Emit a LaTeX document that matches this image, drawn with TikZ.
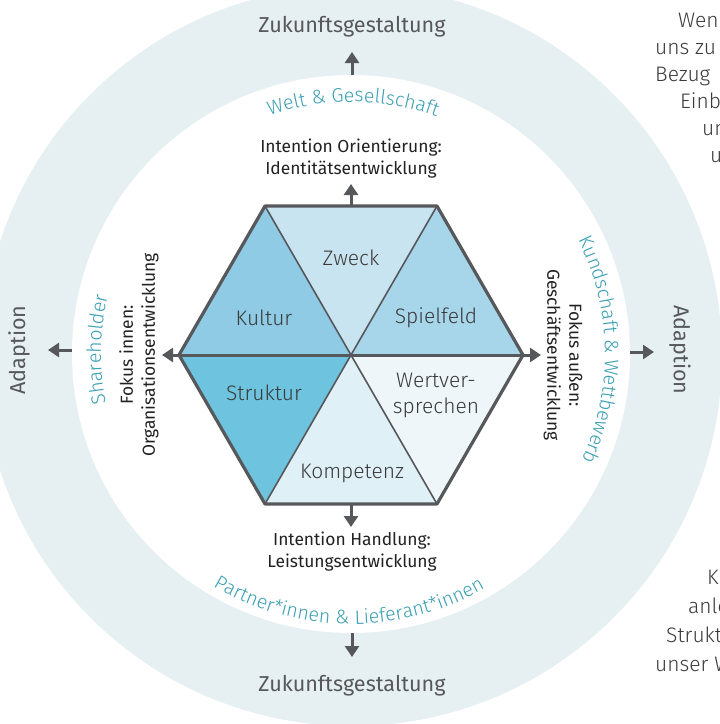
\documentclass[tikz,border=0pt]{standalone}
\usepackage{fontspec}
\setmainfont{Fira Sans}
\IfFontExistsTF{Fira Sans Light}{\newfontfamily\lightf{Fira Sans Light}}{%
  \IfFontExistsTF{Lato Light}{\newfontfamily\lightf{Lato Light}}{\newfontfamily\lightf{Fira Sans}}}
\usetikzlibrary{arrows.meta,decorations.text}
\definecolor{ring}{HTML}{E6F0F3}
\definecolor{dark}{HTML}{56585B}
\definecolor{tealt}{HTML}{3A9FB3}
\definecolor{txtdark}{HTML}{222222}
\definecolor{txtseg}{HTML}{3A3A3A}
\definecolor{cZweck}{HTML}{C8E4F0}
\definecolor{cKultur}{HTML}{8FCBE4}
\definecolor{cSpiel}{HTML}{A7D6EA}
\definecolor{cStruk}{HTML}{6EC3DF}
\definecolor{cKomp}{HTML}{DFF0F7}
\definecolor{cWert}{HTML}{EEF6FA}
\tikzset{
  bigl/.style={font=\fontsize{21.6}{24}\selectfont, text=dark, inner sep=0pt},
  midl/.style={font=\fontsize{17.4}{22}\selectfont, text=txtdark, inner sep=0pt, align=center},
  segl/.style={font=\lightf\fontsize{21}{26}\selectfont, text=txtseg, inner sep=0pt, align=center},
  sidetxt/.style={font=\lightf\fontsize{21}{24}\selectfont, text=txtseg, inner sep=0pt, anchor=base west},
  arr/.style={draw=dark, line width=3pt, -{Triangle[width=14pt,length=11pt]}},
  hexline/.style={draw=dark, line width=3.2pt, line join=round},
  spoke/.style={draw=dark, line width=1.6pt},
}
\newcommand{\tealfont}{\lightf\fontsize{19.6}{22}\selectfont}
\begin{document}
\begin{tikzpicture}[x=1pt,y=1pt]
\useasboundingbox (0,0) rectangle (720,-724);
% background ring
\fill[ring] (352,-356) circle (370);
\fill[white] (617,1) rectangle (721,-98);
\fill[white] (351,-354) circle (279);
\coordinate (C) at (351,-354);
% hexagon
\coordinate (H) at (351,-355);
\foreach \a/\n in {0/v0,60/v1,120/v2,180/v3,240/v4,300/v5}
  \coordinate (\n) at ([shift={(\a:172)}]H);
\fill[cSpiel] (H) -- (v0) -- (v1) -- cycle;
\fill[cZweck] (H) -- (v1) -- (v2) -- cycle;
\fill[cKultur] (H) -- (v2) -- (v3) -- cycle;
\fill[cStruk] (H) -- (v3) -- (v4) -- cycle;
\fill[cKomp] (H) -- (v4) -- (v5) -- cycle;
\fill[cWert] (H) -- (v5) -- (v0) -- cycle;
\draw[spoke] (v1) -- (v4);
\draw[spoke] (v2) -- (v5);
\draw[dark, line width=3pt] (v3) -- (v0);
\draw[hexline] (v0) -- (v1) -- (v2) -- (v3) -- (v4) -- (v5) -- cycle;
% segment labels
\node[segl] (zweck) at (351,-258) {Zweck};
\node[segl] (kultur) at (264,-318) {Kultur};
\node[segl] (spiel) at (436,-318) {Spielfeld};
\node[segl] (struk) at (264,-393) {Struktur};
\node[segl] (wert) at (436,-395) {Wertver-\\sprechen};
\node[segl] (komp) at (352,-473) {Kompetenz};
% hexagon arrows
\coordinate (hT) at (351,-206); \coordinate (hTa) at (351,-184);
\coordinate (hB) at (351,-504); \coordinate (hBa) at (351,-527);
\coordinate (hL) at (179,-355); \coordinate (hLa) at (162,-355);
\coordinate (hR) at (523,-355); \coordinate (hRa) at (541,-355);
\draw[arr] (hT) -- (hTa);
\draw[arr] (hB) -- (hBa);
\draw[arr] (hL) -- (hLa);
\draw[arr] (hR) -- (hRa);
% outer arrows
\coordinate (oT) at (352,-75); \coordinate (oTa) at (352,-52);
\coordinate (oB) at (352,-633); \coordinate (oBa) at (352,-657);
\coordinate (oL) at (72,-350); \coordinate (oLa) at (48,-350);
\coordinate (oR) at (630,-352); \coordinate (oRa) at (654,-352);
\draw[arr] (oT) -- (oTa);
\draw[arr] (oB) -- (oBa);
\draw[arr] (oL) -- (oLa);
\draw[arr] (oR) -- (oRa);
% outer labels
\node[bigl] (zT) at (352,-27) {Zukunftsgestaltung};
\node[bigl] (zB) at (352,-686) {Zukunftsgestaltung};
\node[bigl, rotate=90] (adL) at (19,-350) {Adaption};
\node[bigl, rotate=-90] (adR) at (680,-350) {Adaption};
% intention / fokus labels
\node[midl] (iT) at (351,-159) {Intention Orientierung:\\Identitätsentwicklung};
\node[midl] (iB) at (352,-552) {Intention Handlung:\\Leistungsentwicklung};
\node[midl, rotate=90] (fL) at (139,-355) {Fokus innen:\\Organisationsentwicklung};
\node[midl, rotate=-90] (fR) at (563,-355) {Fokus außen:\\Geschäftsentwicklung};
% curved teal labels
\path[decorate, decoration={text along path, text align=center, text color=tealt,
  text={|\tealfont|Welt {\&} Gesellschaft}}]
  ([shift={(149.5:252)}]C) arc[start angle=149.5, end angle=29.5, radius=252];
\path[decorate, decoration={text along path, text align=center, text color=tealt,
  text={|\tealfont|Kundschaft {\&} Wettbewerb}}]
  ([shift={(61:254)}]C) arc[start angle=61, end angle=-59, radius=254];
\path[decorate, decoration={text along path, text align=center, text color=tealt,
  text={|\tealfont|Shareholder}}]
  ([shift={(209:250)}]C) arc[start angle=209, end angle=149, radius=250];
\path[decorate, decoration={text along path, text align=center, text color=tealt,
  text={|\tealfont|Partner*innen {\&} Lieferant*innen}}]
  ([shift={(209.5:270)}]C) arc[start angle=209.5, end angle=329.5, radius=270];
% cut-off side texts top right
\node[sidetxt] (r1) at (678,-27) {Wen};
\node[sidetxt] (r2) at (655,-54) {uns zu};
\node[sidetxt] (r3) at (655,-81) {Bezug};
\node[sidetxt] (r4) at (680,-108) {Einb};
\node[sidetxt] (r5) at (702,-135) {un};
\node[sidetxt] (r6) at (710,-162) {u};
% cut-off side texts bottom right
\node[sidetxt] (s1) at (707,-584) {Ku};
\node[sidetxt] (s2) at (688,-613) {anle};
\node[sidetxt] (s3) at (666,-642) {Strukt};
\node[sidetxt] (s4) at (655,-671) {unser W};
\end{tikzpicture}
\end{document}
